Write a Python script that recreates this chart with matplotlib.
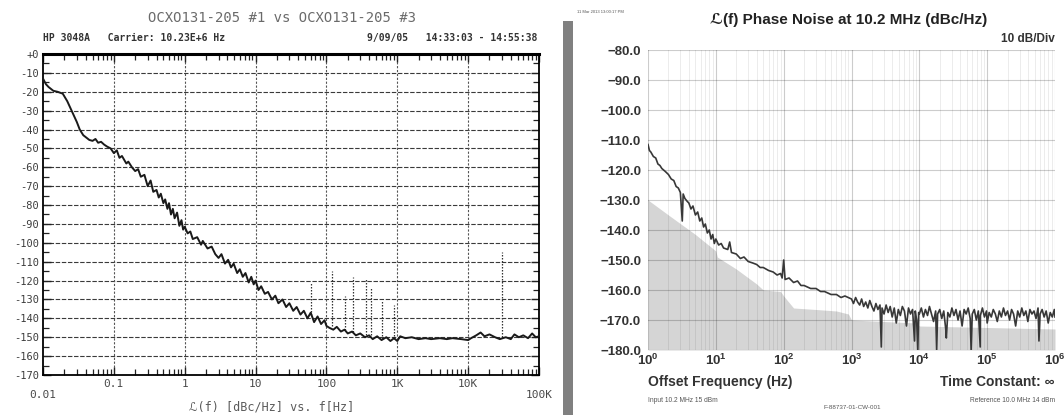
import matplotlib.pyplot as plt
import numpy as np
from matplotlib.patches import Rectangle
from matplotlib.ticker import LogLocator, MultipleLocator, NullFormatter

plt.rcParams['mathtext.fontset'] = 'custom'
plt.rcParams['mathtext.rm'] = 'Liberation Sans'
plt.rcParams['mathtext.bf'] = 'Liberation Sans:bold'

# ---- left plot: HP 3048A scan ----
hp_freq = [0.010, 0.011, 0.012, 0.014, 0.016, 0.019, 0.022, 0.026, 0.030, 0.033,
           0.037, 0.040, 0.045, 0.050, 0.055, 0.060, 0.066, 0.073, 0.080, 0.090,
           0.10, 0.11, 0.12, 0.13, 0.15, 0.16, 0.18, 0.20, 0.22, 0.24,
           0.27, 0.30, 0.33, 0.36, 0.40, 0.43, 0.46, 0.50, 0.53, 0.57,
           0.60, 0.64, 0.68, 0.72, 0.78, 0.84, 0.90, 0.95, 1.0, 1.1,
           1.2, 1.3, 1.5, 1.7, 1.8, 2.1, 2.4, 2.7, 3.0, 3.3,
           3.7, 4.1, 4.5, 4.9, 5.5, 6.0, 6.6, 7.2, 8.0, 8.7,
           9.4, 10, 11, 12, 13.5, 15, 17, 19, 21, 24,
           27, 30, 34, 38, 43, 48, 54, 60, 67, 75,
           84, 94, 100, 110, 125, 140, 160, 180, 200, 230,
           260, 300, 350, 400, 450, 520, 600, 700, 800, 900,
           1000, 1100, 1300, 1600, 2000, 2500, 3000, 4000, 5000, 6000,
           8000, 10000, 11000, 13000, 15000, 17000, 20000, 24000, 28000, 34000,
           40000, 45000, 52000, 60000, 70000, 80000, 90000, 100000]
hp_level = [-13, -16, -17.5, -19.5, -20, -21, -25, -31, -36, -40,
            -43, -44, -45.5, -46, -45, -47, -46.5, -48, -49, -50,
            -52.5, -51, -55, -54, -58, -57, -60, -62, -61, -65,
            -64, -70, -67, -73, -72, -76, -74, -79, -77, -82,
            -79, -85, -82, -87, -84, -91, -88, -93, -91.5, -95,
            -94, -98, -97, -101, -99, -103, -102, -106, -108, -106,
            -111, -109, -113, -111, -116, -114, -118, -116, -121, -118,
            -122, -120, -125, -123, -127, -126, -130, -128, -132, -130,
            -134, -132, -136, -134, -138, -136, -140, -137, -142, -139,
            -143, -141, -144, -145, -146, -144.5, -147, -146, -148, -147,
            -149, -148, -150, -149, -151, -149.5, -151.5, -150, -152, -150.5,
            -152, -149.5, -150.5, -150, -151, -150.5, -151, -150.5, -151, -150.5,
            -151, -151.5, -150.5, -149, -147.5, -149.5, -148.5, -150, -151, -150,
            -151, -148.5, -150, -149, -150.5, -148, -150, -149.5]
hp_spur_freq = [60, 120, 180, 240, 360, 420, 600, 900, 30000]
hp_spur_top = [-121, -115, -128, -118, -119, -124, -131, -133, -105]
hp_spur_base = [-138, -144, -146, -147, -149, -149, -151, -151, -150]
hp_yticks = [0, -10, -20, -30, -40, -50, -60, -70, -80, -90, -100,
             -110, -120, -130, -140, -150, -160, -170]
hp_xticks = [0.01, 0.1, 1, 10, 100, 1e3, 1e4, 1e5]
hp_xlabels = ['0.01', '0.1', '1', '10', '100', '1K', '10K', '100K']

# ---- right plot: phase noise at 10.2 MHz ----
pn_freq = [1.0, 1.05, 1.1, 1.2, 1.3, 1.4, 1.5, 1.6, 1.8, 2.0,
           2.2, 2.4, 2.6, 2.8, 3.0, 3.2, 3.3, 3.5, 3.8, 4.0,
           4.3, 4.6, 5.0, 5.4, 5.8, 6.2, 6.6, 7.0, 7.5, 8.0,
           8.5, 9.0, 9.5, 10, 11, 12, 13, 15, 16, 17,
           20, 23, 26, 30, 35, 40, 45, 50, 60, 70,
           80, 90, 95, 100, 105, 120, 140, 160, 180, 200,
           250, 300, 350, 400, 500, 600, 700, 800,
           1000, 1070, 1150, 1230, 1320, 1410, 1510, 1620, 1740, 1860,
           2000, 2140, 2290, 2450, 2630, 2750, 2820, 3020, 3240, 3470,
           3720, 3980, 4270, 4570, 4900, 5250, 5620, 6030, 6460, 6920,
           7410, 7940, 8500, 8710, 9120, 9500, 9770,
           10000, 10700, 11500, 12300, 13200, 14100, 15100, 16200, 17400, 18000,
           18600, 20000, 21400, 22900, 24500, 25000, 26300, 28200, 30200, 32400,
           34700, 37200, 39800, 42700, 45700, 49000, 52500, 56200, 58000, 60300,
           64600, 69200, 74100, 79000, 79400, 85100, 91200, 97700,
           100000, 107000, 115000, 123000, 132000, 141000, 151000, 162000, 174000, 186000,
           200000, 214000, 229000, 245000, 263000, 282000, 302000, 324000, 347000, 372000,
           398000, 427000, 457000, 490000, 525000, 562000, 580000, 603000, 646000, 692000,
           741000, 794000, 851000, 912000, 977000, 1000000]
pn_level = [-111.5, -113.5, -114, -115.5, -116, -118, -118.5, -119.5, -120.5, -121.5,
            -123, -123.5, -125.5, -126, -127.5, -137, -128, -129.5, -130.5, -131,
            -133, -132, -135, -134, -137, -136, -139, -138, -141, -140,
            -143, -141.5, -144.5, -143, -145, -144.5, -146, -146.5, -144, -147.5,
            -148, -149.5, -149, -150.5, -151, -151.5, -152.5, -152.5, -153.5, -154,
            -155, -154.5, -156, -150, -156.5, -156, -157.5, -157, -158.5, -158.5,
            -159.5, -159.5, -160.5, -160.5, -161.5, -161.5, -162.5, -162,
            -163, -164.5, -162.5, -164, -165, -163, -165.5, -164, -166, -163.5,
            -165.5, -167, -164.5, -166.5, -165, -179, -166, -168, -165, -167.5,
            -165.5, -169, -166, -171, -166.5, -168.5, -165.5, -167, -172, -166,
            -168, -166.5, -177, -167, -170, -180, -167.5,
            -168, -166, -169, -166.5, -168.5, -165.5, -168, -170.5, -167, -180,
            -168, -166.5, -169.5, -167, -173, -176, -167.5, -169, -166, -168.5,
            -166.5, -170, -167, -172, -166.5, -168, -166, -169.5, -180, -168,
            -166.5, -170, -167, -179, -168.5, -166, -169, -167,
            -171, -167.5, -169, -166.5, -168, -170.5, -167, -169, -166, -168.5,
            -167, -170, -166.5, -168, -172, -167, -169, -166, -168.5, -167,
            -170.5, -166.5, -168, -167, -169.5, -166, -177, -168, -166.5, -169,
            -167, -171, -167.5, -169, -166.5, -169]
floor_freq = [1, 2, 5, 10, 10.5, 20, 40, 50, 90, 100,
              140, 300, 600, 900, 1000, 3000, 9000, 10000, 100000, 1000000]
floor_level = [-130, -135, -141.5, -147, -149, -153, -158, -160, -160.5, -162,
               -166, -166.5, -167, -168, -170, -170.5, -171, -172, -172.5, -173]
pn_yticks = [-80, -90, -100, -110, -120, -130, -140, -150, -160, -170, -180]
pn_xticks = [1, 10, 100, 1e3, 1e4, 1e5, 1e6]

W, H = 1064, 415
fig = plt.figure(figsize=(W / 100, H / 100), dpi=100)
mono = ['DejaVu Sans Mono', 'DejaVu Sans']
sans = ['Liberation Sans', 'DejaVu Sans']

# ================= left =================
ax1 = fig.add_axes([43 / W, 1 - 375 / H, 496 / W, 321 / H])
ax1.set_xscale('log')
ax1.set_xlim(0.01, 1e5)
ax1.set_ylim(-170, 0)
for y in hp_yticks[1:-1]:
    ax1.axhline(y, color='#3a3a3a', lw=0.8, ls=(0, (4, 1.5)), zorder=1)
for x in hp_xticks[1:-1]:
    ax1.axvline(x, color='#555555', lw=0.8, ls=(0, (2, 1.5)), zorder=1)
ax1.plot(hp_freq, hp_level, color='#1a1a1a', lw=1.4, zorder=3)
ax1.vlines(hp_spur_freq, hp_spur_base, hp_spur_top, colors='#333333',
           lw=0.9, linestyles=(0, (1.2, 1.2)), zorder=2)
for s in ax1.spines.values():
    s.set_linewidth(1.3)
ax1.spines['top'].set_linewidth(2.2)
ax1.set_yticks(hp_yticks)
ax1.set_yticklabels(['+0' if v == 0 else str(v) for v in hp_yticks],
                    family=mono, fontsize=7.5, color='#3c3c3c')
ax1.yaxis.set_minor_locator(MultipleLocator(5))
ax1.set_xticks(hp_xticks)
ax1.xaxis.set_minor_locator(LogLocator(base=10, subs=range(2, 10), numticks=20))
ax1.xaxis.set_major_formatter(NullFormatter())
ax1.xaxis.set_minor_formatter(NullFormatter())
ax1.tick_params(which='both', direction='in', top=True, right=True, color='#222222')
ax1.tick_params(which='major', length=6, width=1, pad=3)
ax1.tick_params(which='minor', length=4, width=0.9)
for x, lab in zip(hp_xticks, hp_xlabels):
    yy = -0.062 if lab in ('0.01', '100K') else -0.028
    ax1.text(x, yy, lab, transform=ax1.get_xaxis_transform(), ha='center',
             va='center', family=mono, fontsize=8, color='#4a4a4a')

fig.text(282 / W, 1 - 18 / H, 'OCXO131-205 #1 vs OCXO131-205 #3', ha='center',
         va='center', family=mono, fontsize=10, color='#6a6a6a')
fig.text(43 / W, 1 - 38 / H, 'HP 3048A   Carrier: 10.23E+6 Hz', ha='left',
         va='center', family=mono, fontsize=7, weight='bold', color='#333333')
fig.text(537 / W, 1 - 38 / H, '9/09/05   14:33:03 - 14:55:38', ha='right',
         va='center', family=mono, fontsize=7, weight='bold', color='#333333')
fig.text(272 / W, 1 - 407 / H, 'ℒ(f) [dBc/Hz] vs. f[Hz]', ha='center',
         va='center', family=mono, fontsize=8.5, color='#5a5a5a')

# ================= right =================
fig.add_artist(Rectangle((563 / W, 0), 10 / W, 394 / H, transform=fig.transFigure,
                         color='#808080', lw=0))
ax2 = fig.add_axes([648 / W, 1 - 350 / H, 407 / W, 300 / H])
ax2.set_xscale('log')
ax2.set_xlim(1, 1e6)
ax2.set_ylim(-180, -80)
ax2.fill_between(floor_freq, floor_level, -180, color='#d5d5d5', lw=0, zorder=1)
ax2.set_axisbelow(False)
ax2.grid(which='major', color='black', alpha=0.2, lw=0.8, zorder=2)
ax2.xaxis.set_minor_locator(LogLocator(base=10, subs=range(2, 10), numticks=20))
ax2.xaxis.set_minor_formatter(NullFormatter())
ax2.grid(which='minor', axis='x', color='black', alpha=0.09, lw=0.6, zorder=2)
ax2.plot(pn_freq, pn_level, color='#383838', lw=1.2, zorder=3)
for s in ax2.spines.values():
    s.set_visible(False)
ax2.set_yticks(pn_yticks)
ax2.set_yticklabels(['\u2212%.1f' % abs(v) for v in pn_yticks], family=sans,
                    fontsize=9.5, weight='bold', color='#333333')
ax2.set_xticks(pn_xticks)
ax2.set_xticklabels([r'$\mathbf{10^{%d}}$' % int(np.log10(v)) for v in pn_xticks],
                    fontsize=9.5, color='#333333')
ax2.tick_params(which='both', length=0)
ax2.tick_params(axis='y', pad=5)
ax2.tick_params(axis='x', pad=2)

fig.text(849 / W, 1 - 20 / H, 'ℒ(f) Phase Noise at 10.2 MHz (dBc/Hz)', ha='center',
         va='center', family=sans, fontsize=11, weight='bold', color='#222222')
fig.text(1055 / W, 1 - 39 / H, '10 dB/Div', ha='right', va='center', family=sans,
         fontsize=8.5, weight='bold', color='#333333')
fig.text(648 / W, 1 - 382 / H, 'Offset Frequency (Hz)', ha='left', va='center',
         family=sans, fontsize=10, weight='bold', color='#333333')
fig.text(1055 / W, 1 - 382 / H, 'Time Constant: ∞', ha='right', va='center',
         family=sans, fontsize=10, weight='bold', color='#333333')
fig.text(648 / W, 1 - 400 / H, 'Input 10.2 MHz 15 dBm', ha='left', va='center',
         family=sans, fontsize=4.8, color='#555555')
fig.text(1055 / W, 1 - 400 / H, 'Reference 10.0 MHz 14 dBm', ha='right', va='center',
         family=sans, fontsize=4.8, color='#555555')
fig.text(852 / W, 1 - 407 / H, 'F-88737-01-CW-001', ha='center', va='center',
         family=sans, fontsize=4.5, color='#555555')
fig.text(577 / W, 1 - 12 / H, '11 Mar 2013 13:00:17 PM', ha='left', va='center',
         family=sans, fontsize=3, color='#555555')

fig.savefig('out.png', dpi=100, facecolor='white')
